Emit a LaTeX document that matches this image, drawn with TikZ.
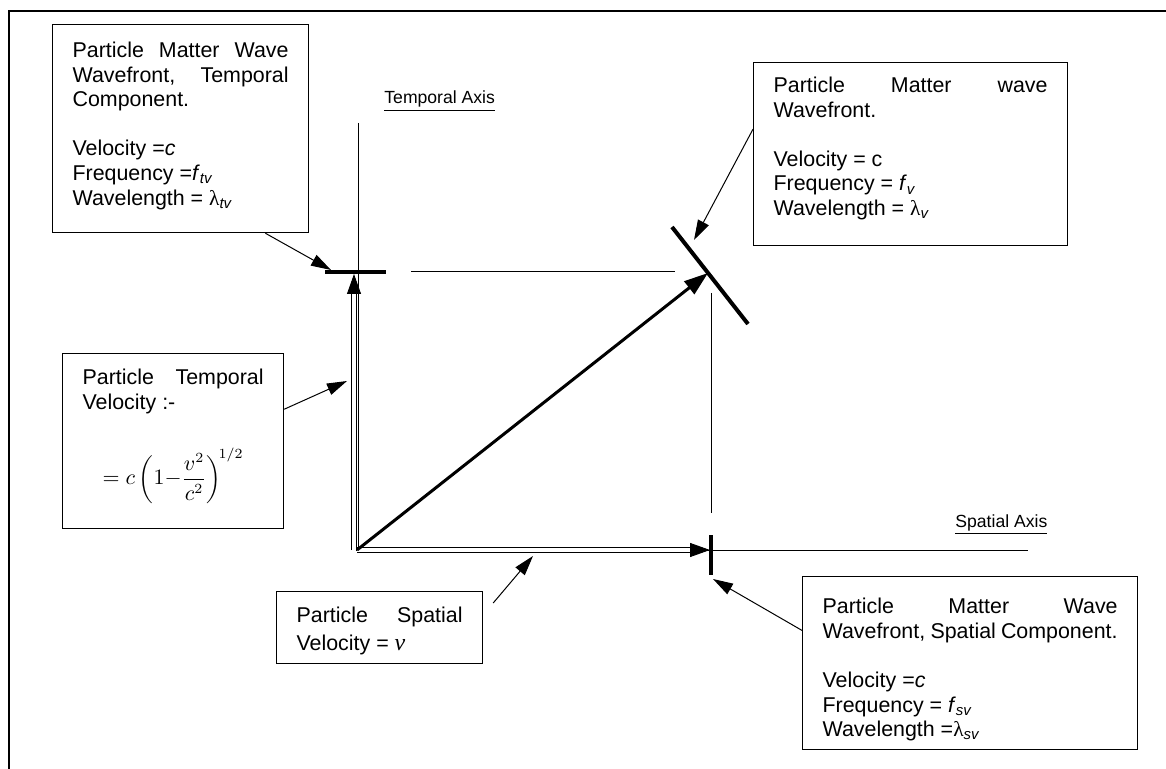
\documentclass[tikz,border=0pt]{standalone}
\usepackage{fontspec}
\setmainfont{Liberation Sans}
\newfontfamily\seriffont{Liberation Serif}
\usetikzlibrary{arrows.meta,calc}
% text of a box: width, height, first baseline, lines
\newcommand{\boxtext}[4]{\parbox[t][#2][t]{#1}{\rule{0pt}{#3}#4}}

\begin{document}
\begin{tikzpicture}[x=0.5pt,y=-0.5pt,
    infobox/.style={draw,line width=0.6pt,anchor=north west,inner xsep=10pt,inner ysep=0pt,
      font=\fontsize{10.7}{12.3}\selectfont},
    axislabel/.style={anchor=base west,inner sep=0pt,font=\fontsize{8.8}{10}\selectfont},
    thinline/.style={line width=0.5pt},
    wavefront/.style={line width=2pt},
    pointer/.style={line width=0.5pt,-{Triangle[length=10pt,width=6pt]}},
    dblarrow/.style={double,double distance=1.7pt,line width=0.45pt,-{Triangle[length=10pt,width=7pt]}},
    speed/.style={line width=1.5pt,-{Triangle[length=12pt,width=8pt]}}]

  \useasboundingbox (0,0) rectangle (1166,769);
  \draw[line width=0.6pt] (9,769) -- (9,11) -- (1166,11);

  \path
    (357,550) coordinate(o)
    (354,550) coordinate(tfoot)
    (354,274) coordinate(thead)
    (357,550) coordinate(sfoot)
    (710,550) coordinate(shead)
    (358,123) coordinate(ttop)
    (358,550) coordinate(tbot)
    (356,550) coordinate(sleft)
    (1028,550) coordinate(sright)
    (325,272) coordinate(tbarl)
    (386,272) coordinate(tbarr)
    (411,272) coordinate(hl)
    (675,272) coordinate(hr)
    (711,293) coordinate(vt)
    (711,513) coordinate(vb)
    (711,535) coordinate(sbart)
    (711,575) coordinate(sbarb)
    (672,227) coordinate(dbara)
    (748,324) coordinate(dbarb)
    (708,273) coordinate(dtip)
    ;

  % axes
  \draw[thinline] (ttop) -- (tbot);
  \draw[thinline] (sleft) -- (sright);
  \node[axislabel] (tlabel) at (384,104) {\underline{Temporal Axis}};
  \node[axislabel] (slabel) at (955,527) {\underline{Spatial Axis}};

  % projections of the wavefront
  \draw[thinline] (hl) -- (hr);
  \draw[thinline] (vt) -- (vb);
  \draw[wavefront] (tbarl) -- (tbarr);
  \draw[wavefront] (sbart) -- (sbarb);
  \draw[wavefront] (dbara) -- (dbarb);

  % velocities
  \draw[dblarrow] (tfoot) -- (thead);
  \draw[dblarrow] (sfoot) -- (shead);
  \draw[speed] (o) -- (dtip);

  % boxes
  \node[infobox] (tvbox) at (52,24) {\boxtext{108pt}{104pt}{16.5pt}{%
    Particle\hfill Matter\hfill Wave\\
    Wavefront,\hfill Temporal\\
    Component.\\[\baselineskip]
    Velocity =\textit{c}\\
    Frequency =\textit{f}\textsubscript{\itshape tv}\\
    Wavelength = {\seriffont λ}\textsubscript{\itshape tv}}};

  \node[infobox] (wavebox) at (753,62) {\boxtext{137pt}{91.5pt}{15pt}{%
    Particle\hfill Matter\hfill wave\\
    Wavefront.\\[\baselineskip]
    Velocity = c\\
    Frequency = \textit{f}\textsubscript{\itshape v}\\
    Wavelength = {\seriffont λ}\textsubscript{\itshape v}}};

  \node[infobox] (tempbox) at (62,353) {\boxtext{90.5pt}{87.5pt}{15.5pt}{%
    Particle\hfill Temporal\\
    Velocity :-\\[25.6pt]
    \hspace*{\fill}\smash{$\displaystyle = c\left(1{-}\frac{v^{2}}{c^{2}}\right)^{\!1/2}$}\hspace*{\fill}}};

  \node[infobox] (spbox) at (276,591) {\boxtext{83pt}{36pt}{15.5pt}{%
    Particle\hfill Spatial\\[1.6pt]
    Velocity = {\seriffont\itshape\fontsize{12}{12}\selectfont v}}};

  \node[infobox] (svbox) at (802,576) {\boxtext{147.5pt}{86.5pt}{18.5pt}{%
    Particle\hfill Matter\hfill Wave\\
    Wavefront, Spatial Component.\\[\baselineskip]
    Velocity =\textit{c}\\
    Frequency = \textit{f}\textsubscript{\itshape sv}\\
    Wavelength =\hspace{0pt}{\seriffont λ}\textsubscript{\itshape sv}}};

  % pointers
  \draw[pointer] (tvbox.-51.4) -- (331,270);
  \draw[pointer] (wavebox.171.8) -- (694,240);
  \draw[pointer] (tempbox.16.4) -- (347,381);
  \draw[pointer] ($(spbox.north east)+(10,12)$) -- (533,556);
  \draw[pointer] (svbox.169) -- (713,579);
\end{tikzpicture}
\end{document}
